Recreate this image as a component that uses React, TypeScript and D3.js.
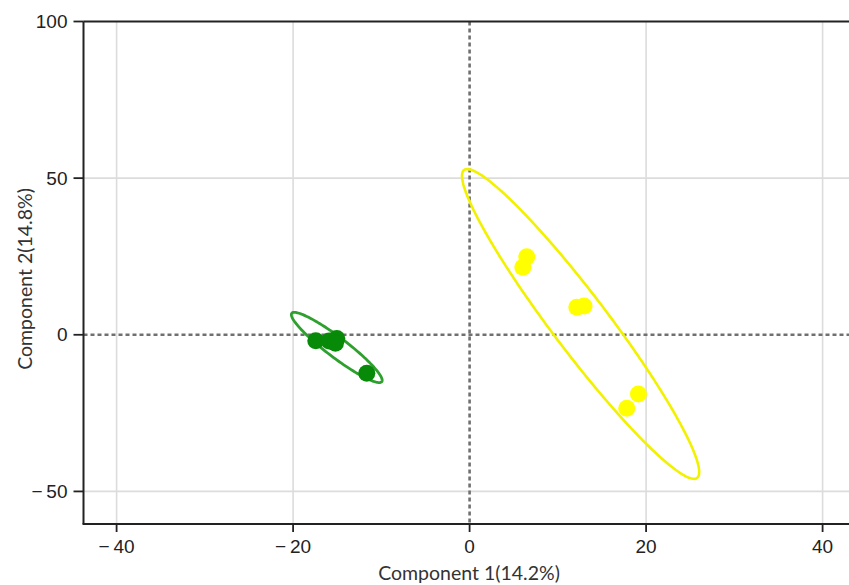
import React from "react";
import * as d3 from "d3";

// Score coordinates per group (Component 1, Component 2)
const groupAX = [-17.43, -15.92, -15.05, -15.2, -11.65];
const groupAY = [-1.88, -1.98, -1.2, -2.7, -12.29];
const groupBX = [6.48, 6.03, 12.15, 12.97, 19.13, 17.81];
const groupBY = [24.93, 21.54, 8.78, 9.19, -18.89, -23.46];

// Confidence ellipses: center, major semi-axis vector, minor semi-axis vector (data units)
const ellipseA = { cx: -15.05, cy: -4.05, ax: 5.1, ay: -10.92, bx: 0.686, by: 2.54 };
const ellipseB = { cx: 12.58, cy: 3.45, ax: 13.2, ay: -49.15, bx: 2.53, by: 5.39 };

const xTicks = [-40, -20, 0, 20, 40];
const yTicks = [-50, 0, 50, 100];
const xLabel = "Component 1(14.2%)";
const yLabel = "Component 2(14.8%)";

const W = 849;
const H = 585;
const left = 83.5;
const top = 21.5;
const bottom = 524;

const x = d3.scaleLinear().domain([-43.75, 45]).range([left, left + 88.75 * 8.825]);
const y = d3.scaleLinear().domain([-60.4, 100]).range([bottom, top]);

const fmt = (v: number) => (v < 0 ? "\u2212\u2009" + Math.abs(v) : String(v));

function ellipsePath(e: typeof ellipseA) {
  const ts = d3.range(0, 2 * Math.PI + 0.001, Math.PI / 90);
  const line = d3
    .line<number>()
    .x((t) => x(e.cx + e.ax * Math.cos(t) + e.bx * Math.sin(t)))
    .y((t) => y(e.cy + e.ay * Math.cos(t) + e.by * Math.sin(t)))
    .curve(d3.curveLinearClosed);
  return line(ts) || "";
}

export default function App() {
  const tickFont = "'Liberation Sans', Arial, sans-serif";
  const titleFont = "Lato, 'Open Sans', sans-serif";
  const xr = W + 2;
  return (
    <svg
      width={W}
      height={H}
      style={{ position: "absolute", left: 0, top: 0, background: "#fff" }}
    >
      {/* grid */}
      {xTicks
        .filter((t) => t !== 0)
        .map((t) => (
          <line key={"gx" + t} x1={x(t)} x2={x(t)} y1={top} y2={bottom} stroke="#dcdcdc" strokeWidth={1.6} />
        ))}
      {yTicks
        .filter((t) => t !== 0 && t !== 100)
        .map((t) => (
          <line key={"gy" + t} x1={left} x2={xr} y1={y(t)} y2={y(t)} stroke="#dcdcdc" strokeWidth={1.6} />
        ))}
      {/* zero reference lines */}
      <line x1={x(0)} x2={x(0)} y1={top} y2={bottom} stroke="#707070" strokeWidth={2.6} strokeDasharray="4 3" />
      <line x1={left} x2={xr} y1={y(0)} y2={y(0)} stroke="#707070" strokeWidth={2.6} strokeDasharray="4 3" />

      {/* ellipses */}
      <path d={ellipsePath(ellipseA)} fill="none" stroke="#2ea02e" strokeWidth={2.8} />
      <path d={ellipsePath(ellipseB)} fill="none" stroke="#f2f200" strokeWidth={2.6} />

      {/* points */}
      {groupAX.map((v, i) => (
        <circle key={"a" + i} cx={x(v)} cy={y(groupAY[i])} r={8.5} fill="#078a07" />
      ))}
      {groupBX.map((v, i) => (
        <circle key={"b" + i} cx={x(v)} cy={y(groupBY[i])} r={8.5} fill="#ffff00" />
      ))}

      {/* spines */}
      <line x1={left} x2={left} y1={top} y2={bottom} stroke="#222" strokeWidth={2} />
      <line x1={left - 1} x2={xr} y1={bottom} y2={bottom} stroke="#222" strokeWidth={2} />
      <line x1={left} x2={xr} y1={top} y2={top} stroke="#222" strokeWidth={2} />

      {/* y ticks */}
      {yTicks.map((t) => (
        <g key={"yt" + t}>
          <line x1={left - 10} x2={left} y1={y(t)} y2={y(t)} stroke="#222" strokeWidth={1.8} />
          <text
            x={left - 16}
            y={y(t)}
            dy="0.35em"
            textAnchor="end"
            fontFamily={tickFont}
            fontSize={19}
            fill="#222"
          >
            {fmt(t)}
          </text>
        </g>
      ))}
      {/* x ticks */}
      {xTicks.map((t) => (
        <g key={"xt" + t}>
          <line x1={x(t)} x2={x(t)} y1={bottom} y2={bottom + 8} stroke="#222" strokeWidth={1.8} />
          <text
            x={x(t)}
            y={bottom + 29}
            textAnchor="middle"
            fontFamily={tickFont}
            fontSize={19}
            fill="#222"
          >
            {fmt(t)}
          </text>
        </g>
      ))}

      {/* axis titles */}
      <text x={469} y={580} textAnchor="middle" fontFamily={titleFont} fontSize={19.5} fill="#333">
        {xLabel}
      </text>
      <text
        transform={`translate(32, 279) rotate(-90)`}
        textAnchor="middle"
        fontFamily={titleFont}
        fontSize={19.5}
        fill="#333"
      >
        {yLabel}
      </text>
    </svg>
  );
}
